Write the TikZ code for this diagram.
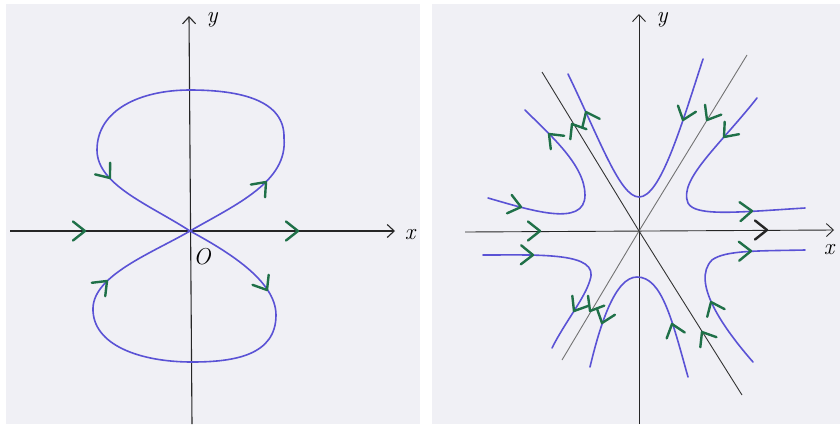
\documentclass[tikz,border=0pt]{standalone}
\usetikzlibrary{arrows.meta}
\definecolor{paper}{HTML}{F0F0F5}
\definecolor{inkblue}{HTML}{5A52D5}
\definecolor{inkgreen}{HTML}{1F7048}
% green chevron at a point, angle measured in the picture's own (y down) frame
\newcommand{\flowat}[3][inkgreen]{\draw[chevline, draw=#1, shift={#2}, rotate=-#3] (-12,-9.5) -- (0,0) -- (-12,9.5);}

\begin{document}
\begin{tikzpicture}[
  x=1pt, y=-1pt,
  axis/.style={draw=black!85, line width=1.1pt, -{Straight Barb[length=7pt,width=13pt]}},
  thinaxis/.style={axis, line width=0.9pt},
  sep/.style={draw=#1, line width=0.9pt},
  orbit/.style={draw=inkblue, line width=1.6pt, line cap=round},
  chevline/.style={line width=2.4pt, line cap=round, line join=round},
  axlabel/.style={inner sep=0pt, font=\fontsize{23}{25}\selectfont\itshape}
]
\useasboundingbox (0,0) rectangle (840,424);
\fill[white] (0,0) rectangle (840,424);
\fill[paper] (6,4) rectangle (420,424);
\fill[paper] (432,4) rectangle (840,424);

% left: figure eight
\coordinate (O1) at (190,231);
\draw[axis] (10,231) -- (395,231);
\draw[axis] (192,424) -- (189,16);
\node[axlabel] (x1) at (410,235) {x};
\node[axlabel] (y1) at (212,20) {y};
\node[axlabel] (o1) at (202,257) {O};

\draw[orbit] (O1) .. controls (235,205) and (288,182) .. (284,138)
  .. controls (285,100) and (240,90) .. (190,90)
  .. controls (140,90) and (97,110) .. (97,150)
  .. controls (97,185) and (150,205) .. (O1);
\draw[orbit] (O1) .. controls (225,250) and (276,280) .. (276,315)
  .. controls (276,355) and (235,362) .. (192,362)
  .. controls (140,362) and (92,345) .. (93,308)
  .. controls (94,275) and (152,253) .. (O1);

\flowat{(85,231)}{0}
\flowat{(298,231)}{0}
\flowat{(266,182)}{-48}
\flowat{(110,178)}{52}
\flowat{(267,290)}{58}
\flowat{(107,281)}{-45}

% right: saddle with two separatrices
\coordinate (O2) at (639,231);
\draw[thinaxis] (465,232) -- (834,230);
\draw[thinaxis] (639,424) -- (639,14);
\node[axlabel] (x2) at (829,250) {x};
\node[axlabel] (y2) at (662,20) {y};

\draw[sep=black!55] (747,55) -- (O2) -- (562,360);
\draw[sep=black!80] (742,395) -- (O2) -- (542,72);

\draw[orbit] (703,59) .. controls (680,130) and (660,197) .. (639,197)
  .. controls (620,197) and (600,140) .. (568,74);
\draw[orbit] (488,198) .. controls (530,210) and (585,228) .. (585,195)
  .. controls (585,165) and (550,135) .. (525,110);
\draw[orbit] (757,98) .. controls (720,145) and (678,180) .. (688,203)
  .. controls (695,217) and (740,212) .. (805,208);
\draw[orbit] (483,255) .. controls (540,255) and (600,252) .. (590,280)
  .. controls (585,298) and (565,322) .. (552,348);
\draw[orbit] (688,377) .. controls (672,320) and (662,277) .. (637,277)
  .. controls (615,277) and (600,325) .. (590,367);
\draw[orbit] (753,362) .. controls (725,330) and (690,282) .. (712,260)
  .. controls (725,250) and (760,251) .. (805,250);

\flowat{(540,231)}{0}
\flowat[black!85]{(767,230)}{0}
\flowat{(707,120)}{121}
\flowat{(590,311)}{121}
\flowat{(702,332)}{238}
\flowat{(572,124)}{238}
\flowat{(683,120)}{109}
\flowat{(586,112)}{245}
\flowat{(521,207)}{14}
\flowat{(549,134)}{225}
\flowat{(724,137)}{131}
\flowat{(752,211)}{-3}
\flowat{(533,255)}{1}
\flowat{(574,311)}{122}
\flowat{(672,324)}{252}
\flowat{(602,323)}{109}
\flowat{(711,302)}{246}
\flowat{(751,251)}{-1}
\end{tikzpicture}
\end{document}
